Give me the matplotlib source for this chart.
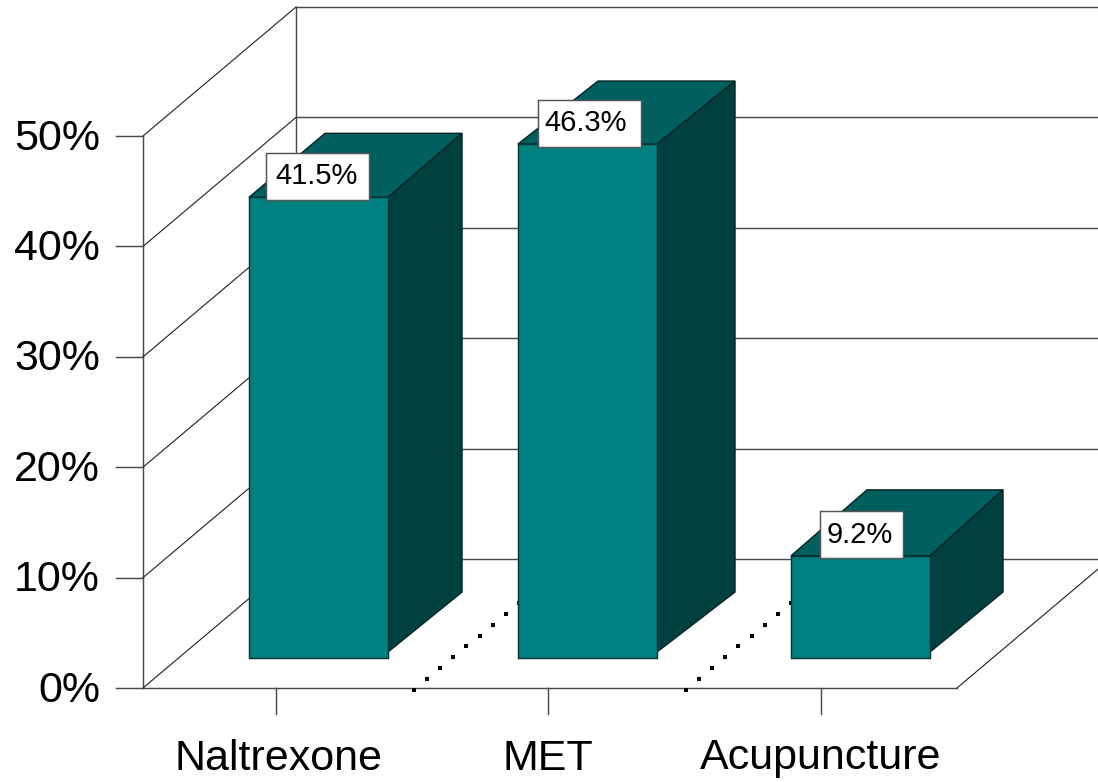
import matplotlib
matplotlib.use("Agg")
import matplotlib.pyplot as plt
import numpy as np
from matplotlib.patches import Polygon, Rectangle

plt.rcParams['font.family'] = ['Liberation Sans', 'DejaVu Sans']

categories = ['Naltrexone', 'MET', 'Acupuncture']
values = [41.5, 46.3, 9.2]
value_labels = ['41.5%', '46.3%', '9.2%']
levels = [0, 10, 20, 30, 40, 50]
level_labels = ['0%', '10%', '20%', '30%', '40%', '50%']

W, H = 1098, 782
FRONT, TOP, SIDE = '#008080', '#006060', '#004040'
LINE = '#4a4a4a'
DIAG = '#1e1e1e'
LW = 1.05
LW_D = 0.8

fig = plt.figure(figsize=(W / 100, H / 100), dpi=100, facecolor='white')

# Chart walls: y axis in percent, x in pixels
wall_scale = 11.04
wall_zero = 688
wall = fig.add_axes([0, 0, 1, 1])
wall.set_xlim(0, W)
wall.set_ylim((wall_zero - H) / wall_scale, wall_zero / wall_scale)
wall.axis('off')

x_front, x_back, x_floor_end = 143, 296, 957
depth_x, depth_y = x_back - x_front, 129 / wall_scale
tick_x = [276, 548, 821]
label_x = [278, 548, 821]
sep_x = [414, 686]

wall.plot([x_front, x_front], [0, 50], color=LINE, lw=LW)
wall.plot([x_back, x_back], [depth_y, 50 + depth_y], color=LINE, lw=LW)
for lv, lab in zip(levels, level_labels):
    wall.plot([x_front, x_back], [lv, lv + depth_y], color=DIAG, lw=LW_D)
    wall.plot([x_back, W + 5], [lv + depth_y] * 2, color=LINE, lw=LW)
    wall.plot([116, x_front], [lv, lv], color=LINE, lw=LW)
    wall.text(100, lv - 2.5 / wall_scale, lab, ha='right', va='center', fontsize=31, color='black')
wall.plot([x_front, x_floor_end], [0, 0], color=LINE, lw=LW)
wall.plot([x_floor_end, x_floor_end + depth_x], [0, depth_y], color=DIAG, lw=LW_D)

for tx in tick_x:
    wall.plot([tx, tx], [0, -26 / wall_scale], color=LINE, lw=LW)
steps = np.arange(12)
for sx in sep_x:
    wall.plot(sx + 13.1 * steps, (-2 + 10.9 * steps) / wall_scale, linestyle='none',
              marker='s', markersize=2.8, markerfacecolor='black', markeredgewidth=0)

for cx, cat in zip(label_x, categories):
    wall.text(cx, -70.5 / wall_scale, cat, ha='center', va='center', fontsize=31, color='black')

# Bars: y axis in percent on the nearer plane
bar_scale = 11.1
bar_zero = 658
bars = fig.add_axes([0, 0, 1, 1])
bars.set_xlim(0, W)
bars.set_ylim((bar_zero - H) / bar_scale, bar_zero / bar_scale)
bars.axis('off')
bars.patch.set_alpha(0)

bar_left = [249, 518, 791]
bar_w = 139
back_left = [76, 80, 76]
back_right = [74, 78, 73]
top_depth = [64, 63, 66]
side_front_y = 6 / bar_scale
side_back_y = 66 / bar_scale
label_dx = [17, 20, 29]
label_w = [103, 103, 83]
text_dx = [-0.5, -3.5, -1.5]
label_h = 47 / bar_scale
edge = '#062626'

for i, (left, v, txt) in enumerate(zip(bar_left, values, value_labels)):
    r = left + bar_w
    top = v + top_depth[i] / bar_scale
    bars.add_patch(Polygon([(left, v), (r, v), (r + back_right[i], top), (left + back_left[i], top)],
                           closed=True, facecolor=TOP, edgecolor=edge, lw=LW, zorder=2))
    bars.add_patch(Polygon([(r, side_front_y), (r + back_right[i], side_back_y),
                            (r + back_right[i], top), (r, v)],
                           closed=True, facecolor=SIDE, edgecolor=edge, lw=LW, zorder=2))
    bars.bar(left, v, width=bar_w, align='edge', color=FRONT, edgecolor='#0a3434', lw=LW, zorder=3)
    bottom = v - 2.5 / bar_scale
    bars.add_patch(Rectangle((left + label_dx[i], bottom), label_w[i], label_h, facecolor='white',
                             edgecolor='#555555', lw=LW, zorder=4))
    bars.text(left + label_dx[i] + label_w[i] / 2 + text_dx[i], bottom + label_h / 2, txt,
              ha='center', va='center', fontsize=21, color='black', zorder=5)

fig.savefig('out.png', dpi=100, facecolor='white')
